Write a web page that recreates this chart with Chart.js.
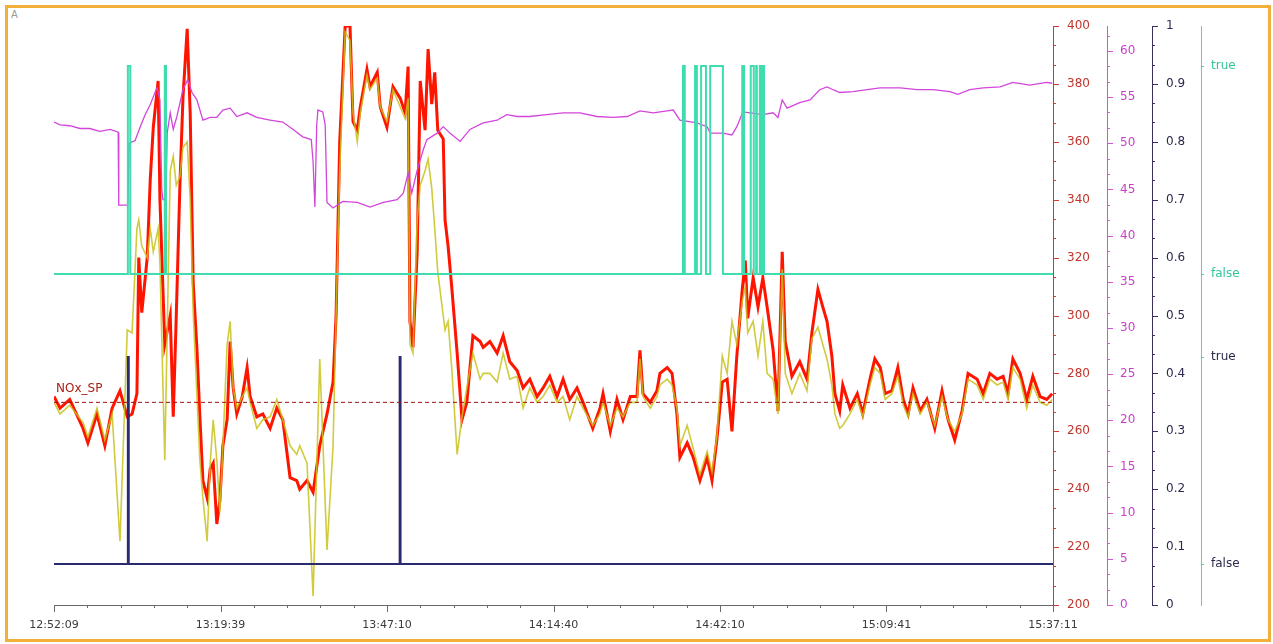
<!DOCTYPE html>
<html>
<head>
<meta charset="utf-8">
<script src="https://cdn.jsdelivr.net/npm/chart.js@4.4.1/dist/chart.umd.min.js"></script>
<style>
body { margin: 0; background: #fff; }
#frame { position: absolute; left: 5px; top: 5px; width: 1260px; height: 631px; border: 3px solid #f2b03a; }
#tag { position: absolute; left: 11px; top: 9px; font: 10px 'DejaVu Sans'; color: #9a9a9a; }
canvas { position: absolute; left: 0; top: 0; }
</style>
</head>
<body>
<div id="frame"></div>
<div id="tag">A</div>
<canvas id="trend" width="1273" height="644"></canvas>
<script>
// minutes since 12:52:09
const spanMin = 165.033;
const timeLabels = ['12:52:09', '13:19:39', '13:47:10', '14:14:40', '14:42:10', '15:09:41', '15:37:11'];

// NOx samples (red = measured, yellow = second analyser)
const noxT = [0,1.0,2.6,4.8,5.6,7.1,8.4,9.6,10.9,12.1,
  12.9,13.7,14.0,14.5,15.4,15.9,16.4,17.2,17.5,18.3,
  19.2,19.7,20.2,20.8,21.3,22.0,22.5,23.0,23.6,24.1,
  24.6,25.3,25.8,26.3,26.9,27.4,27.9,28.6,29.1,29.6,
  30.2,31.1,31.9,32.4,33.5,34.5,35.7,36.8,37.8,39.0,
  40.1,40.6,41.8,42.8,43.9,45.1,46.1,46.6,47.2,48.1,
  48.9,49.4,50.1,50.6,51.7,52.2,53.4,53.9,55.0,56.0,
  57.2,58.0,58.5,58.8,59.3,60.0,60.5,61.3,61.8,62.4,
  62.9,63.4,64.3,64.6,65.1,65.7,66.6,67.4,68.2,69.2,
  70.4,70.9,72.0,73.2,74.2,75.3,76.5,77.5,78.6,79.8,
  80.8,81.9,83.1,84.1,85.2,86.4,87.4,89.0,90.2,90.7,
  91.9,93.0,94.0,95.2,96.3,96.8,97.3,98.5,99.6,100.1,
  101.3,102.1,102.9,103.4,104.6,105.6,106.7,107.9,108.7,109.5,
  110.4,111.2,112.0,112.8,113.7,114.2,114.6,115.5,116.3,117.1,
  117.8,118.8,119.6,120.3,120.8,121.9,123.2,124.4,125.2,126.2,
  127.0,127.7,128.5,129.0,129.8,130.3,131.5,132.7,133.6,134.8,
  135.6,136.5,137.3,138.4,139.4,140.3,141.1,141.9,143.1,144.2,
  145.5,146.7,147.7,148.8,150.0,151.0,152.5,153.5,154.6,155.8,
  156.8,157.6,158.4,159.6,160.7,161.7,162.9,164.0,164.9];
const noxRed = [272,268,271,261,256,266,255,268,274,265,
  266,273,320,301,320,347,365,381,340,290,
  300,265,300,345,375,399,370,311,289,265,
  243,237,247,249,228,236,255,264,291,275,
  266,272,282,272,265,266,261,268,264,244,
  243,240,243,239,255,266,277,300,360,400,
  400,367,364,372,385,379,384,372,365,379,
  375,370,386,298,289,322,381,364,392,373,
  384,364,361,333,324,310,287,264,270,293,
  291,289,291,287,293,284,281,275,278,272,
  275,279,272,278,271,275,270,261,268,273,
  260,271,264,272,272,288,273,270,274,280,
  282,280,266,251,256,251,243,251,243,257,
  277,278,260,286,309,319,299,313,303,313,
  303,288,267,322,291,279,284,278,294,309,
  303,298,286,273,267,276,268,273,266,278,
  285,282,273,274,282,271,266,275,267,271,
  261,274,264,257,267,280,278,273,280,278,
  279,273,285,280,271,279,272,271,273];
const noxYellow = [270,266,269,263,258,268,257,266,222,295,
  294,330,333,324,320,330,322,330,318,250,
  350,355,345,348,358,360,340,301,273,250,
  237,222,249,264,250,232,255,290,298,275,
  268,272,275,270,261,264,265,271,264,255,
  252,255,249,203,285,219,255,300,350,398,
  395,370,360,370,383,378,382,372,367,378,
  372,368,375,290,287,333,345,350,354,344,
  330,315,300,295,298,282,252,265,275,287,
  278,280,280,277,287,278,279,268,275,270,
  272,276,270,272,264,272,268,262,266,270,
  262,268,265,270,270,285,272,268,272,276,
  278,276,268,255,262,254,245,253,246,258,
  286,280,298,290,305,310,294,298,286,298,
  280,278,266,316,280,273,280,274,292,296,
  290,285,276,266,261,262,266,271,265,276,
  282,280,271,273,279,269,265,273,266,270,
  262,272,264,260,266,278,276,271,278,276,
  277,271,282,278,268,276,270,269,271];

// magenta analog trend (0..62.7 axis)
const o2T = [0,1.0,2.6,4.3,5.9,7.6,9.3,10.6,10.7,12.2,
  12.4,13.4,14.2,15.0,15.9,17.0,17.5,17.8,18.0,18.5,
  18.7,19.2,19.7,20.3,21.3,22.1,22.8,23.6,24.6,25.8,
  26.9,27.9,29.1,30.2,31.9,33.5,35.7,37.8,39.5,41.1,
  42.5,42.8,43.1,43.4,43.6,44.4,44.8,45.1,46.1,47.7,
  50.1,52.2,54.4,56.7,57.7,58.5,59.1,60.0,61.0,61.6,
  63.3,64.3,65.4,67.1,68.7,70.9,73.2,74.8,76.5,78.6,
  81.4,84.1,86.9,89.7,92.3,94.7,96.8,99.0,101.3,102.3,
  103.4,106.2,107.9,108.4,110.5,112.0,112.8,113.8,115.0,117.1,
  118.8,119.6,120.3,121.1,123.2,124.9,126.5,127.7,128.7,129.8,
  132.0,134.3,136.5,139.8,142.6,145.2,148.0,149.3,151.3,153.5,
  156.3,158.4,161.2,164.0,164.9];
const o2V = [52.3,52.0,51.9,51.6,51.6,51.3,51.5,51.2,43.3,43.3,
  50.0,50.3,51.7,53.0,54.2,56.0,54.7,45,43.9,43.9,
  51.1,53.3,51.5,52.9,55.8,56.9,55.5,54.7,52.5,52.8,
  52.8,53.6,53.8,52.9,53.3,52.8,52.5,52.3,51.5,50.7,
  50.4,48,43.1,52,53.6,53.4,52,43.6,43.0,43.7,
  43.6,43.1,43.6,43.9,44.6,46.8,44.6,47.1,49.3,50.4,
  51.1,51.8,51.1,50.2,51.5,52.2,52.5,53.1,52.9,52.9,
  53.1,53.3,53.3,52.9,52.8,52.9,53.5,53.3,53.5,53.6,
  52.5,52.2,51.8,51.1,51.1,50.9,51.8,53.4,53.3,53.1,
  53.3,52.8,54.7,53.8,54.4,54.7,55.8,56.1,55.8,55.5,
  55.6,55.8,56.0,56.0,55.8,55.8,55.6,55.3,55.8,56.0,
  56.1,56.6,56.3,56.6,56.5];

// digital signals: state changes (1 = true, 0 = false)
const tealT = [0,12.2,12.6,18.3,18.5,103.9,104.2,105.9,106.2,106.9,107.7,108.4,110.5,113.7,114.0,115.1,115.6,116.0,116.1,116.6,116.8,117.0,117.3,165.033];
const tealV = [0,1,0,1,0,1,0,1,0,1,0,1,0,1,0,1,0,1,0,1,0,1,0,0];
const navyT = [0,12.2,12.35,57.1,57.25,165.033];
const navyV = [0,1,0,1,0,0];

const spValue = 270;
const spLabel = 'NOx_SP';
const boolLabels = ['false', 'true'];

const FONT = 'DejaVu Sans';
const C = {
  red: '#ff1400', yellow: '#c8c21a', mag: '#d246dc', teal: '#3edcae', navy: '#2a2a6e',
  redAxis: '#cc3a30', magAxis: '#d058d8', navyAxis: '#3c2e5c', tealAxis: '#4ad8b0'
};
const tealRange = { min: -1.592, max: 1.192 };
const navyRange = { min: -0.198, max: 2.599 };

const xy = (ts, vs) => ts.map((t, i) => ({ x: t, y: vs[i] }));

function subTicks(min, max, step, parts) {
  const out = [];
  for (let k = 0; min + k * step / parts <= max + 1e-6; k++) {
    out.push({ value: min + k * step / parts, major: k % parts === 0, n: k / parts });
  }
  return out;
}

function yAxis(opts) {
  return {
    type: 'linear', position: 'right', weight: opts.weight, min: opts.min, max: opts.max,
    grid: { display: false, drawTicks: true, tickLength: opts.tick || 6 },
    border: { display: true, color: opts.axis, width: 1 },
    ticks: {
      autoSkip: false, padding: opts.pad || 8, color: opts.label,
      font: { family: FONT, size: 12 },
      callback: opts.callback
    },
    afterBuildTicks: opts.build,
    afterFit: s => { s.width = opts.width; }
  };
}

const tickMarks = {
  id: 'tickMarks',
  afterDraw(chart) {
    const ctx = chart.ctx;
    ctx.save();
    ctx.lineWidth = 1;
    ['x', 'yR', 'yM', 'yN', 'yT'].forEach(id => {
      const s = chart.scales[id];
      ctx.strokeStyle = s.options.border.color;
      s.ticks.forEach(tk => {
        let len = tk.major ? 6 : 3;
        if (id === 'x') len = tk.major ? 7 : 3;
        if (id === 'yT') len = 3;
        const p = Math.round(s.getPixelForValue(tk.value)) + 0.5;
        ctx.beginPath();
        if (id === 'x') { ctx.moveTo(p, s.top); ctx.lineTo(p, s.top + len); }
        else { ctx.moveTo(s.left, p); ctx.lineTo(s.left + len, p); }
        ctx.stroke();
      });
    });
    const yR = chart.scales.yR;
    ctx.fillStyle = '#a82018';
    ctx.font = '12px ' + FONT;
    ctx.textBaseline = 'middle';
    ctx.fillText(spLabel, chart.chartArea.left + 2, yR.getPixelForValue(spValue) - 13);
    ctx.restore();
  }
};

new Chart(document.getElementById('trend'), {
  type: 'line',
  data: {
    datasets: [
      { data: [{ x: 0, y: spValue }, { x: spanMin, y: spValue }], yAxisID: 'yR',
        borderColor: '#a01010', borderWidth: 1, borderDash: [4, 3] },
      { data: xy(tealT, tealV), yAxisID: 'yT', stepped: true, borderColor: C.teal, borderWidth: 2 },
      { data: xy(navyT, navyV), yAxisID: 'yD', stepped: true, borderColor: C.navy, borderWidth: 2 },
      { data: xy(o2T, o2V), yAxisID: 'yM', borderColor: C.mag, borderWidth: 1.3 },
      { data: xy(noxT, noxYellow), yAxisID: 'yR', borderColor: 'rgba(200,194,26,0.85)', borderWidth: 1.6 },
      { data: xy(noxT, noxRed), yAxisID: 'yR', borderColor: C.red, borderWidth: 3 }
    ]
  },
  options: {
    responsive: false,
    animation: false,
    events: [],
    elements: { point: { radius: 0 }, line: { tension: 0, fill: false } },
    layout: { padding: { left: 54, top: 26, right: 22, bottom: 0 } },
    plugins: { legend: { display: false }, tooltip: { enabled: false } },
    scales: {
      x: {
        type: 'linear', position: 'bottom', min: 0, max: spanMin,
        grid: { display: false, drawTicks: true, tickLength: 7 },
        border: { display: true, color: '#6a6a6a', width: 1 },
        ticks: {
          autoSkip: false, maxRotation: 0, padding: 7, color: '#3a3a3a',
          font: { family: FONT, size: 11 },
          callback: (v, i, ts) => ts[i].major ? timeLabels[ts[i].n] : ''
        },
        afterBuildTicks: s => { s.ticks = subTicks(0, spanMin, spanMin / 6, 5); },
        afterFit: s => { s.height = 39; }
      },
      yR: yAxis({
        weight: 0, min: 200, max: 400, axis: C.redAxis, label: '#c0352c', width: 54,
        build: s => { s.ticks = subTicks(200, 400, 20, 3); },
        callback: (v, i, ts) => ts[i].major ? String(Math.round(v)) : ''
      }),
      yM: yAxis({
        weight: 1, min: 0, max: 62.7, axis: C.magAxis, label: '#c842c8', width: 45, pad: 7,
        build: s => { s.ticks = subTicks(0, 62.7, 5, 3); },
        callback: (v, i, ts) => ts[i].major ? String(Math.round(v)) : ''
      }),
      yN: yAxis({
        weight: 2, min: 0, max: 1, axis: C.navyAxis, label: '#2e2850', width: 49,
        build: s => { s.ticks = subTicks(0, 1, 0.1, 3); },
        callback: (v, i, ts) => ts[i].major ? String(Math.round(v * 10) / 10) : ''
      }),
      yT: yAxis({
        weight: 3, min: tealRange.min, max: tealRange.max, axis: C.tealAxis, label: '#36c49c', width: 50, tick: 3, pad: 7,
        build: s => {
          const toT = v => tealRange.min + (v - navyRange.min) / (navyRange.max - navyRange.min) * (tealRange.max - tealRange.min);
          s.ticks = [
            { value: toT(0), major: false, n: 0 },
            { value: toT(1), major: false, n: 1 },
            { value: 0, major: false, n: 0 },
            { value: 1, major: false, n: 1 }
          ];
        },
        callback: (v, i, ts) => boolLabels[ts[i].n]
      }),
      yD: { type: 'linear', display: false, min: navyRange.min, max: navyRange.max }
    }
  },
  plugins: [tickMarks]
});

// label colour on the boolean axis: lower pair belongs to the navy signal
Chart.getChart('trend').options.scales.yT.ticks.color = ctx => ctx.index >= 2 ? '#36c49c' : '#2a2a4a';
Chart.getChart('trend').update();
</script>
</body>
</html>
